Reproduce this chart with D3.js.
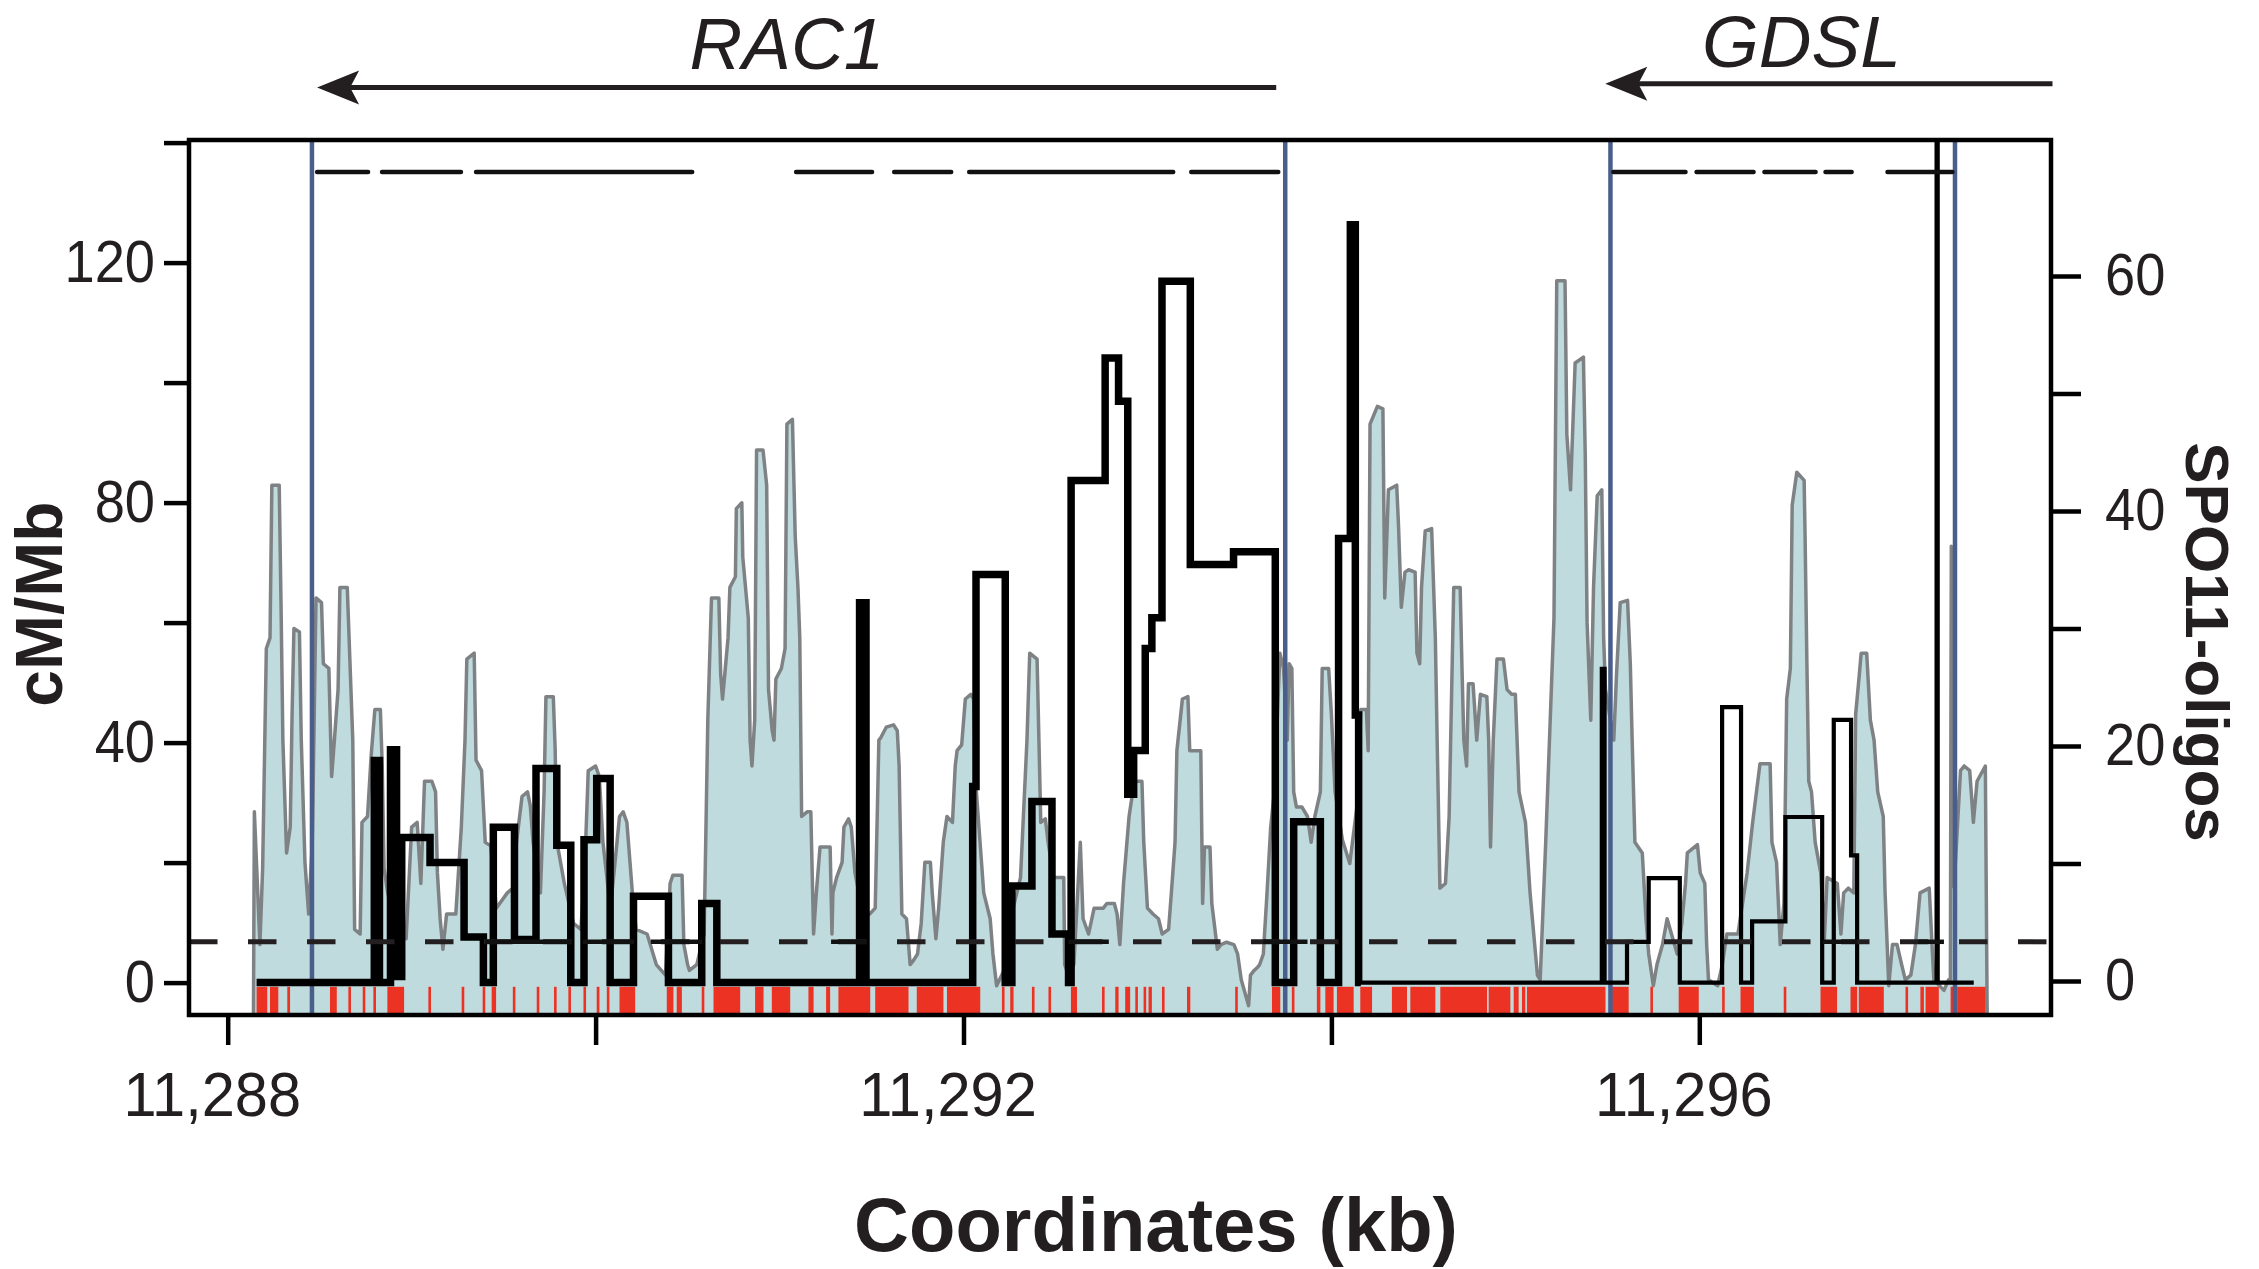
<!DOCTYPE html>
<html>
<head>
<meta charset="utf-8">
<script src="https://cdn.jsdelivr.net/npm/d3@7"></script>
<style>
  html, body { margin: 0; padding: 0; background: #fff; }
  svg { display: block; font-family: "Liberation Sans", Arial, Helvetica, sans-serif; }
</style>
</head>
<body>
<div id="chart"></div>
<script>
// axis ticks
const kbTicks = [11288, 11290, 11292, 11294, 11296];
const kbLabels = [11288, 11292, 11296];
const cmTicks = [0, 20, 40, 60, 80, 100, 120, 140];
const cmLabels = [0, 40, 80, 120];
const spoTicks = [0, 10, 20, 30, 40, 50, 60];
const spoLabels = [0, 20, 40, 60];

// genes (arrows point in direction of transcription)
const geneNames = ["RAC1", "GDSL"];
const geneFrom = [11293.70, 11297.92];
const geneTo = [11288.486, 11295.489];
const geneLabelKb = [11291.04, 11296.555];

// gene boundaries (blue verticals)
const boundaryKb = [11288.458, 11293.749, 11295.517, 11297.390];

// dashed line on top (cM/Mb)
const topDashLevel = 135.1;
const topDashStart = [11288.486, 11288.839, 11289.350, 11291.090, 11291.623, 11292.031, 11293.238, 11295.533, 11295.985, 11296.354, 11296.686, 11297.023];
const topDashEnd   = [11288.763, 11289.268, 11290.525, 11291.503, 11291.933, 11293.140, 11293.711, 11295.925, 11296.295, 11296.632, 11296.828, 11297.376];

// threshold (cM/Mb)
const threshold = 6.8;
const heavyStart = [11289.40, 11289.93, 11290.30, 11291.28, 11292.57, 11293.63, 11296.67, 11297.19];
const heavyEnd   = [11289.87, 11290.21, 11290.58, 11291.47, 11292.79, 11293.87, 11296.86, 11297.33];

// recombination rate, step function (cM/Mb), value holds from kb[i] to kb[i+1]
const rateAKb = [11288.157, 11288.797, 11288.825, 11288.885, 11288.918, 11288.946, 11289.100, 11289.285, 11289.390, 11289.444,
  11289.559, 11289.676, 11289.789, 11289.865, 11289.937, 11290.006, 11290.079, 11290.206, 11290.396, 11290.577,
  11290.659, 11291.435, 11291.470, 11292.050, 11292.068, 11292.227, 11292.263, 11292.372, 11292.481, 11292.571,
  11292.585, 11292.770, 11292.843, 11292.893, 11292.925, 11292.988, 11293.024, 11293.079, 11293.233, 11293.468,
  11293.695, 11293.795, 11293.940, 11294.039, 11294.103, 11294.130, 11294.148, 11294.160];
const rateAVal = [0, 37.0, 0, 38.8, 1, 24.2, 20.0, 7.6, 0, 25.9,
  7.2, 35.7, 22.9, 0, 23.8, 34.0, 0, 14.4, 0, 13.2,
  0, 63.3, 0, 32.7, 68.0, 0, 16.1, 30.2, 8.1, 0,
  83.7, 104.1, 96.9, 31.4, 38.7, 55.7, 60.8, 116.9, 69.7, 71.8,
  0, 26.8, 0, 74.0, 126.3, 44.6, 0];
const rateBKb = [11294.148, 11295.470, 11295.485, 11295.607, 11295.725, 11295.894, 11296.124, 11296.227, 11296.287,
  11296.468, 11296.668, 11296.731, 11296.825, 11296.858, 11297.290, 11297.296, 11297.492];
const rateBVal = [0, 52.3, 0, 6.8, 17.4, 0, 45.9, 0, 10.2, 27.6, 0, 43.8, 21.2, 0, 150, 0];

// SPO11-oligo profile
const spoKb = [11288.14, 11288.145, 11288.175, 11288.19, 11288.21, 11288.23, 11288.24, 11288.28, 11288.29, 11288.30,
  11288.32, 11288.34, 11288.35, 11288.36, 11288.39, 11288.40, 11288.42, 11288.44, 11288.46, 11288.48,
  11288.51, 11288.52, 11288.55, 11288.56, 11288.565, 11288.58, 11288.60, 11288.61, 11288.65, 11288.67,
  11288.68, 11288.69, 11288.72, 11288.73, 11288.76, 11288.78, 11288.80, 11288.83, 11288.84, 11288.85,
  11288.87, 11288.92, 11288.97, 11289.00, 11289.03, 11289.05, 11289.07, 11289.11, 11289.13, 11289.14,
  11289.155, 11289.17, 11289.19, 11289.24, 11289.27, 11289.29, 11289.30, 11289.34, 11289.35, 11289.38,
  11289.40, 11289.43, 11289.46, 11289.52, 11289.55, 11289.57, 11289.60, 11289.63, 11289.645, 11289.66,
  11289.70, 11289.72, 11289.73, 11289.77, 11289.78, 11289.79, 11289.83, 11289.88, 11289.92, 11289.94,
  11289.96, 11290.00, 11290.02, 11290.04, 11290.08, 11290.10, 11290.13, 11290.15, 11290.17, 11290.20,
  11290.22, 11290.28, 11290.33, 11290.38, 11290.405, 11290.42, 11290.47, 11290.48, 11290.50, 11290.51,
  11290.55, 11290.59, 11290.61, 11290.63, 11290.67, 11290.68, 11290.69, 11290.70, 11290.72, 11290.73,
  11290.76, 11290.765, 11290.795, 11290.80, 11290.83, 11290.84, 11290.85, 11290.865, 11290.875, 11290.91,
  11290.93, 11290.94, 11290.96, 11290.97, 11290.98, 11291.01, 11291.03, 11291.04, 11291.07, 11291.085,
  11291.10, 11291.11, 11291.12, 11291.15, 11291.17, 11291.185, 11291.20, 11291.22, 11291.275, 11291.285,
  11291.29, 11291.31, 11291.34, 11291.35, 11291.375, 11291.39, 11291.41, 11291.45, 11291.49, 11291.52,
  11291.54, 11291.55, 11291.58, 11291.62, 11291.64, 11291.65, 11291.665, 11291.69, 11291.71, 11291.73,
  11291.75, 11291.77, 11291.79, 11291.82, 11291.83, 11291.85, 11291.865, 11291.89, 11291.91, 11291.94,
  11291.955, 11291.965, 11291.99, 11292.01, 11292.04, 11292.055, 11292.07, 11292.11, 11292.145, 11292.16,
  11292.18, 11292.22, 11292.25, 11292.27, 11292.31, 11292.345, 11292.36, 11292.40, 11292.41, 11292.42,
  11292.445, 11292.46, 11292.49, 11292.545, 11292.55, 11292.57, 11292.60, 11292.635, 11292.65, 11292.68,
  11292.71, 11292.76, 11292.78, 11292.82, 11292.835, 11292.85, 11292.87, 11292.90, 11292.925, 11292.94,
  11292.97, 11292.98, 11293.00, 11293.03, 11293.06, 11293.08, 11293.115, 11293.13, 11293.15, 11293.16,
  11293.19, 11293.22, 11293.23, 11293.29, 11293.30, 11293.31, 11293.34, 11293.35, 11293.38, 11293.40,
  11293.43, 11293.47, 11293.49, 11293.51, 11293.55, 11293.56, 11293.58, 11293.60, 11293.61, 11293.63,
  11293.65, 11293.67, 11293.69, 11293.72, 11293.74, 11293.76, 11293.77, 11293.785, 11293.795, 11293.81,
  11293.84, 11293.87, 11293.89, 11293.91, 11293.94, 11293.95, 11293.985, 11294.00, 11294.02, 11294.06,
  11294.10, 11294.14, 11294.16, 11294.19, 11294.20, 11294.21, 11294.25, 11294.28, 11294.29, 11294.31,
  11294.355, 11294.365, 11294.38, 11294.40, 11294.42, 11294.455, 11294.465, 11294.48, 11294.49, 11294.51,
  11294.545, 11294.565, 11294.575, 11294.59, 11294.62, 11294.64, 11294.665, 11294.70, 11294.71, 11294.72,
  11294.735, 11294.745, 11294.77, 11294.79, 11294.81, 11294.845, 11294.855, 11294.865, 11294.88, 11294.90,
  11294.935, 11294.955, 11294.98, 11295.00, 11295.02, 11295.055, 11295.08, 11295.12, 11295.135, 11295.165,
  11295.21, 11295.225, 11295.27, 11295.28, 11295.30, 11295.325, 11295.37, 11295.38, 11295.39, 11295.41,
  11295.425, 11295.445, 11295.47, 11295.48, 11295.49, 11295.535, 11295.55, 11295.57, 11295.61, 11295.625,
  11295.635, 11295.65, 11295.69, 11295.71, 11295.725, 11295.75, 11295.77, 11295.80, 11295.825, 11295.88,
  11295.905, 11295.925, 11295.935, 11295.99, 11296.005, 11296.03, 11296.04, 11296.05, 11296.10, 11296.125,
  11296.15, 11296.21, 11296.26, 11296.29, 11296.33, 11296.385, 11296.395, 11296.42, 11296.44, 11296.46,
  11296.475, 11296.495, 11296.505, 11296.53, 11296.57, 11296.575, 11296.585, 11296.595, 11296.61, 11296.63,
  11296.66, 11296.68, 11296.695, 11296.75, 11296.77, 11296.785, 11296.81, 11296.84, 11296.85, 11296.87,
  11296.88, 11296.91, 11296.93, 11296.95, 11296.97, 11297.00, 11297.01, 11297.03, 11297.05, 11297.075,
  11297.10, 11297.12, 11297.15, 11297.175, 11297.20, 11297.25, 11297.265, 11297.275, 11297.33, 11297.355,
  11297.365, 11297.37, 11297.385, 11297.42, 11297.44, 11297.47, 11297.49, 11297.51, 11297.555, 11297.565];
const spoVal = [-3, 14.4, 3.1, 9.6, 28.3, 29.2, 42.2, 42.2, 32.0, 20.5,
  10.9, 13.1, 22.7, 30.0, 29.7, 20.5, 10.1, 5.7, 11.8, 32.6,
  32.2, 27.0, 26.6, 20.5, 17.4, 20.5, 24.8, 33.5, 33.5, 24.8,
  20.5, 4.4, 4.0, 13.5, 14.0, 19.2, 23.1, 23.1, 18.3, 9.6,
  7.5, 4.0, 3.6, 13.1, 13.5, 8.3, 17.0, 17.0, 16.1, 9.2,
  5.3, 2.7, 5.7, 5.7, 13.1, 20.5, 27.4, 27.9, 18.8, 17.9,
  11.8, 11.5, 6.2, 7.5, 7.9, 11.8, 15.7, 16.1, 14.9, 11.8,
  7.5, 16.1, 24.2, 24.2, 19.8, 11.8, 8.3, 4.9, 4.4, 9.2,
  17.9, 18.3, 17.4, 11.8, 6.2, 9.2, 14.0, 14.4, 13.5, 7.5,
  4.4, 4.0, 1.4, 0.5, 8.3, 9.0, 9.0, 3.1, 1.4, 0.9,
  1.4, 4.0, 22.2, 32.6, 32.6, 26.1, 24.0, 25.7, 29.2, 33.5,
  34.4, 40.2, 40.7, 36.1, 30.9, 20.5, 18.3, 22.2, 45.2, 45.2,
  42.2, 24.8, 21.3, 20.5, 25.7, 26.6, 28.3, 47.4, 47.8, 37.9,
  33.5, 29.2, 14.0, 14.4, 14.4, 4.0, 7.5, 11.4, 11.4, 4.0,
  7.5, 8.8, 10.1, 13.1, 13.8, 13.1, 9.2, 6.0, 5.7, 6.2,
  20.5, 20.7, 21.6, 21.8, 21.3, 18.3, 5.7, 5.3, 1.4, 1.8,
  2.3, 4.9, 10.1, 10.1, 7.5, 3.6, 6.2, 11.8, 14.0, 13.5,
  18.3, 19.6, 20.1, 24.0, 24.4, 24.0, 16.1, 7.5, 5.3, 2.3,
  -0.4, 0.9, 3.1, 6.2, 8.8, 20.5, 27.9, 27.4, 20.5, 13.5,
  13.8, 11.8, 8.8, 8.8, 1.4, 0.5, 1.4, 11.8, 5.3, 4.0,
  6.2, 6.2, 6.6, 6.6, 5.7, 3.1, 8.3, 14.0, 16.6, 17.0,
  17.0, 11.8, 6.2, 5.7, 5.3, 4.0, 4.4, 7.5, 11.8, 19.6,
  24.0, 24.2, 19.6, 19.6, 6.6, 11.4, 11.4, 6.6, 2.7, 3.1,
  3.3, 3.1, 2.3, 0.1, -2.1, 0.5, 0.9, 1.2, 1.4, 2.3,
  7.5, 13.1, 16.1, 27.9, 26.6, 20.5, 27.0, 26.6, 16.1, 14.8,
  14.8, 14.0, 11.8, 14.0, 16.1, 26.6, 26.6, 22.7, 16.1, 12.0,
  10.0, 15.0, 23.1, 23.1, 19.6, 47.4, 48.9, 48.7, 32.6, 41.8,
  42.2, 38.7, 31.8, 34.8, 35.0, 34.8, 27.9, 27.0, 33.5, 38.3,
  38.5, 29.2, 20.5, 7.9, 8.3, 14.0, 33.5, 33.5, 26.6, 20.5,
  18.3, 25.3, 25.3, 20.5, 24.4, 24.2, 20.5, 11.4, 20.5, 27.4,
  27.4, 24.8, 24.4, 24.4, 16.1, 13.5, 7.5, 0.5, 0.1, 11.8,
  30.9, 59.6, 59.6, 46.5, 41.8, 52.6, 53.1, 44.8, 30.5, 22.2,
  33.5, 41.3, 41.8, 29.2, 24.8, 20.5, 26.1, 32.2, 32.4, 27.0,
  20.5, 11.8, 10.9, 5.3, 2.3, -0.4, 1.4, 3.1, 5.3, 2.3,
  4.9, 8.3, 10.9, 11.6, 9.2, 8.3, 3.1, 0.1, -0.4, 1.4,
  4.0, 4.0, 9.2, 13.5, 18.5, 18.5, 11.8, 10.1, 3.1, 6.6,
  24.0, 26.6, 40.5, 43.3, 42.6, 37.9, 27.0, 17.0, 16.1, 11.8,
  9.2, 3.6, 8.8, 8.3, 4.0, 7.5, 7.9, 7.5, 22.7, 26.1,
  27.9, 27.9, 22.2, 20.5, 16.1, 14.0, 7.5, -0.4, 3.1, 3.1,
  1.4, 0.1, 0.5, 3.1, 7.5, 7.9, 3.1, 0.1, -0.8, 0.1,
  0.1, 37.0, 8.0, 17.9, 18.3, 17.9, 13.5, 17.0, 18.3, -3];

// sites along the bottom (red rug), as intervals
const rugStart = [11288.157, 11288.230, 11288.324, 11288.556, 11288.656, 11288.734, 11288.792, 11288.868, 11289.091, 11289.272,
  11289.386, 11289.435, 11289.550, 11289.680, 11289.774, 11289.852, 11289.934, 11290.006, 11290.061, 11290.130,
  11290.387, 11290.441, 11290.577, 11290.641, 11290.867, 11290.958, 11291.157, 11291.253, 11291.320, 11291.520,
  11291.746, 11291.910, 11292.209, 11292.254, 11292.372, 11292.462, 11292.584, 11292.753, 11292.825, 11292.879,
  11292.934, 11292.979, 11293.006, 11293.079, 11293.215, 11293.477, 11293.677, 11293.785, 11293.921, 11293.967,
  11294.030, 11294.157, 11294.329, 11294.429, 11294.592, 11294.855, 11294.991, 11295.036, 11295.063, 11295.526,
  11295.734, 11295.888, 11296.124, 11296.224, 11296.459, 11296.659, 11296.822, 11296.867, 11297.121, 11297.202,
  11297.230, 11297.366, 11297.402];
const rugEnd = [11288.215, 11288.275, 11288.339, 11288.593, 11288.669, 11288.747, 11288.806, 11288.959, 11289.100, 11289.281,
  11289.399, 11289.459, 11289.559, 11289.689, 11289.783, 11289.865, 11289.948, 11290.021, 11290.075, 11290.215,
  11290.423, 11290.469, 11290.590, 11290.786, 11290.913, 11291.058, 11291.185, 11291.275, 11291.493, 11291.701,
  11291.891, 11292.091, 11292.218, 11292.272, 11292.381, 11292.471, 11292.617, 11292.765, 11292.843, 11292.906,
  11292.943, 11292.988, 11293.024, 11293.088, 11293.233, 11293.490, 11293.722, 11293.798, 11293.940, 11294.012,
  11294.121, 11294.221, 11294.411, 11294.565, 11294.846, 11294.973, 11295.018, 11295.054, 11295.490, 11295.616,
  11295.743, 11295.997, 11296.133, 11296.297, 11296.468, 11296.749, 11296.858, 11297.003, 11297.130, 11297.221,
  11297.302, 11297.384, 11297.556];

// ---------------------------------------------------------------

const width = 2259, height = 1269;
const frame = { left: 189, right: 2051, top: 140, bottom: 1015 };

const svg = d3.select("#chart")
  .append("svg")
  .attr("width", width)
  .attr("height", height)
  .attr("viewBox", `0 0 ${width} ${height}`);

const x = d3.scaleLinear().domain([11288, 11296]).range([227.7, 1699.3]);
const yL = d3.scaleLinear().domain([0, 140]).range([982.6, 142.6]);
const yR = d3.scaleLinear().domain([0, 60]).range([981, 276]);

svg.append("clipPath").attr("id", "plot-clip")
  .append("rect")
  .attr("x", frame.left).attr("y", frame.top)
  .attr("width", frame.right - frame.left).attr("height", frame.bottom - frame.top);

const plot = svg.append("g").attr("clip-path", "url(#plot-clip)");

// SPO11-oligo profile
const spo = spoKb.map((k, i) => [k, spoVal[i]]);
plot.append("path")
  .datum(spo)
  .attr("fill", "#bfdbde")
  .attr("d", d3.area().x(d => x(d[0])).y0(frame.bottom).y1(d => yR(d[1])));
plot.append("path")
  .datum(spo)
  .attr("fill", "none")
  .attr("stroke", "#7f8284")
  .attr("stroke-width", 3.5)
  .attr("stroke-linejoin", "round")
  .attr("d", d3.line().x(d => x(d[0])).y(d => yR(d[1])));

// red rug
plot.selectAll(".rug")
  .data(rugStart.map((s, i) => [s, rugEnd[i]]))
  .enter()
  .append("rect")
  .attr("class", "rug")
  .attr("x", d => x(d[0]))
  .attr("width", d => Math.max(2.6, x(d[1]) - x(d[0])))
  .attr("y", yL(-0.7))
  .attr("height", frame.bottom - yL(-0.7))
  .attr("fill", "#ec3223");

// gene boundaries
plot.selectAll(".boundary")
  .data(boundaryKb)
  .enter()
  .append("line")
  .attr("x1", d => x(d)).attr("x2", d => x(d))
  .attr("y1", frame.top - 6).attr("y2", frame.bottom)
  .attr("stroke", "#4a5e8c")
  .attr("stroke-width", 4.5);

// step lines
function stepPoints(kb, val) {
  const pts = val.map((v, i) => [kb[i], v]);
  pts.push([kb[kb.length - 1], val[val.length - 1]]);
  return pts;
}
const stepLine = d3.line().x(d => x(d[0])).y(d => yL(d[1])).curve(d3.curveStepAfter);

plot.append("path")
  .datum(stepPoints(rateAKb, rateAVal))
  .attr("fill", "none")
  .attr("stroke", "#000")
  .attr("stroke-width", 7.5)
  .attr("stroke-linejoin", "miter")
  .attr("d", stepLine);
plot.append("path")
  .datum(stepPoints(rateBKb, rateBVal))
  .attr("fill", "none")
  .attr("stroke", "#000")
  .attr("stroke-width", 4.2)
  .attr("stroke-linejoin", "miter")
  .attr("d", stepLine);

// threshold
plot.append("line")
  .attr("x1", frame.left).attr("x2", frame.right)
  .attr("y1", yL(threshold)).attr("y2", yL(threshold))
  .attr("stroke", "#231f20")
  .attr("stroke-width", 5)
  .attr("stroke-dasharray", "28.5 30.5");
plot.selectAll(".heavy")
  .data(heavyStart.map((s, i) => [s, heavyEnd[i]]))
  .enter()
  .append("line")
  .attr("x1", d => x(d[0])).attr("x2", d => x(d[1]))
  .attr("y1", yL(threshold)).attr("y2", yL(threshold))
  .attr("stroke", "#111")
  .attr("stroke-width", 4.5);

// top dashed line
plot.selectAll(".topdash")
  .data(topDashStart.map((s, i) => [s, topDashEnd[i]]))
  .enter()
  .append("line")
  .attr("x1", d => x(d[0])).attr("x2", d => x(d[1]))
  .attr("y1", yL(topDashLevel)).attr("y2", yL(topDashLevel))
  .attr("stroke", "#111")
  .attr("stroke-width", 4.5)
  .attr("stroke-linecap", "round");

// frame
svg.append("rect")
  .attr("x", frame.left).attr("y", frame.top)
  .attr("width", frame.right - frame.left).attr("height", frame.bottom - frame.top)
  .attr("fill", "none")
  .attr("stroke", "#000")
  .attr("stroke-width", 4.5);

// axes
function styleAxis(g, size, squeeze) {
  g.select(".domain").remove();
  g.selectAll(".tick line").attr("stroke", "#000").attr("stroke-width", 4.5);
  g.selectAll(".tick text")
    .attr("fill", "#231f20")
    .style("font-size", size + "px")
    .attr("x", function() { return +d3.select(this).attr("x") / squeeze; })
    .attr("transform", `scale(${squeeze},1)`);
}

svg.append("g")
  .attr("transform", `translate(${frame.left},0)`)
  .call(d3.axisLeft(yL).tickValues(cmTicks).tickSize(25).tickPadding(9)
    .tickFormat(d => cmLabels.includes(d) ? d : ""))
  .call(g => styleAxis(g, 59, 0.92));

svg.append("g")
  .attr("transform", `translate(${frame.right},0)`)
  .call(d3.axisRight(yR).tickValues(spoTicks).tickSize(30).tickPadding(24)
    .tickFormat(d => spoLabels.includes(d) ? d : ""))
  .call(g => styleAxis(g, 59, 0.92));

svg.append("g")
  .attr("transform", `translate(0,${frame.bottom})`)
  .call(d3.axisBottom(x).tickValues(kbTicks).tickSize(30).tickPadding(27)
    .tickFormat(d => kbLabels.includes(d) ? d3.format(",")(d) : ""))
  .call(g => g.selectAll(".tick text").attr("x", -16))
  .call(g => styleAxis(g, 62, 0.96));

// axis titles
svg.append("text")
  .attr("transform", "translate(62,604) rotate(-90)")
  .attr("text-anchor", "middle")
  .attr("font-weight", "bold")
  .attr("font-size", 66)
  .attr("fill", "#231f20")
  .text("cM/Mb");

svg.append("text")
  .attr("transform", "translate(2186,642) rotate(90)")
  .attr("text-anchor", "middle")
  .attr("font-weight", "bold")
  .attr("font-size", 62)
  .attr("fill", "#231f20")
  .text("SPO11-oligos");

svg.append("text")
  .attr("x", 1156).attr("y", 1251)
  .attr("text-anchor", "middle")
  .attr("font-weight", "bold")
  .attr("font-size", 76)
  .attr("fill", "#231f20")
  .text("Coordinates (kb)");

// gene arrows
const arrowY = [87.5, 83.7];
const labelY = [69, 67];
geneNames.forEach((name, i) => {
  const x0 = x(geneFrom[i]), x1 = x(geneTo[i]);
  const dir = x1 < x0 ? -1 : 1;
  const y = arrowY[i];
  svg.append("line")
    .attr("x1", x0).attr("x2", x1 - dir * 30)
    .attr("y1", y).attr("y2", y)
    .attr("stroke", "#231f20")
    .attr("stroke-width", 5);
  svg.append("path")
    .attr("d", `M${x1},${y} L${x1 - dir * 42},${y - 17} L${x1 - dir * 33},${y} L${x1 - dir * 42},${y + 17} Z`)
    .attr("fill", "#231f20");
  svg.append("text")
    .attr("x", x(geneLabelKb[i])).attr("y", labelY[i])
    .attr("text-anchor", "middle")
    .attr("font-style", "italic")
    .attr("font-size", 73)
    .attr("fill", "#231f20")
    .text(name);
});
</script>
</body>
</html>
